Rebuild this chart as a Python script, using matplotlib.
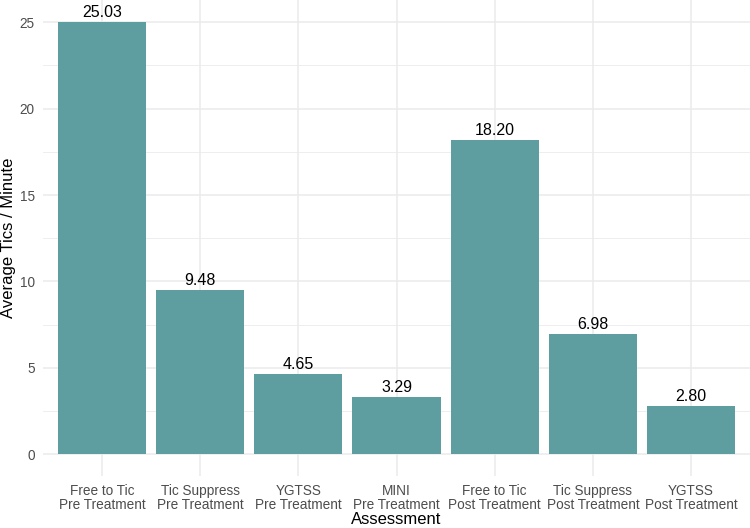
import matplotlib
matplotlib.use("Agg")
import matplotlib.pyplot as plt
from matplotlib.ticker import MultipleLocator

categories = ["Free to Tic\nPre Treatment", "Tic Suppress\nPre Treatment", "YGTSS\nPre Treatment",
              "MINI\nPre Treatment", "Free to Tic\nPost Treatment", "Tic Suppress\nPost Treatment",
              "YGTSS\nPost Treatment"]
values = [25.03, 9.48, 4.65, 3.29, 18.20, 6.98, 2.80]
labels = ["25.03", "9.48", "4.65", "3.29", "18.20", "6.98", "2.80"]

plt.rcParams['font.family'] = ['Liberation Sans', 'DejaVu Sans']
fig = plt.figure(figsize=(7.5, 5.28), dpi=100)
ax = fig.add_axes([43/750, 1-476/528, (750-43)/750, 476/528])

x = list(range(1, len(values)+1))
ax.bar(x, values, width=0.9, color="#5F9EA0", zorder=3)
for xi, v, lab in zip(x, values, labels):
    ax.annotate(lab, (xi, v), xytext=(0, 1.5), textcoords="offset points",
                ha="center", va="bottom", fontsize=11.5, color="black", zorder=4)

ymax = max(values)
ax.set_xlim(0.4, len(values)+0.6)
ax.set_ylim(-0.05*ymax, ymax*1.05)
ax.yaxis.set_major_locator(MultipleLocator(5))
ax.yaxis.set_minor_locator(MultipleLocator(2.5))
ax.set_xticks(x)
ax.set_xticklabels(categories, fontsize=9.8, color="#4D4D4D", linespacing=0.95)
ax.tick_params(axis='y', labelsize=9.8, labelcolor="#4D4D4D", length=0, pad=6)
ax.tick_params(axis='y', which='minor', length=0)
ax.tick_params(axis='x', length=0, pad=6)
ax.grid(True, which='major', color="#EBEBEB", linewidth=1.1, zorder=0)
ax.grid(True, which='minor', axis='y', color="#EBEBEB", linewidth=0.6, zorder=0)
for s in ax.spines.values():
    s.set_visible(False)
ax.set_xlabel("Assessment", fontsize=12, labelpad=0)
ax.set_ylabel("Average Tics / Minute", fontsize=12)
ax.yaxis.set_label_coords(-27/707, 0.5)
fig.savefig("out.png", dpi=100)
